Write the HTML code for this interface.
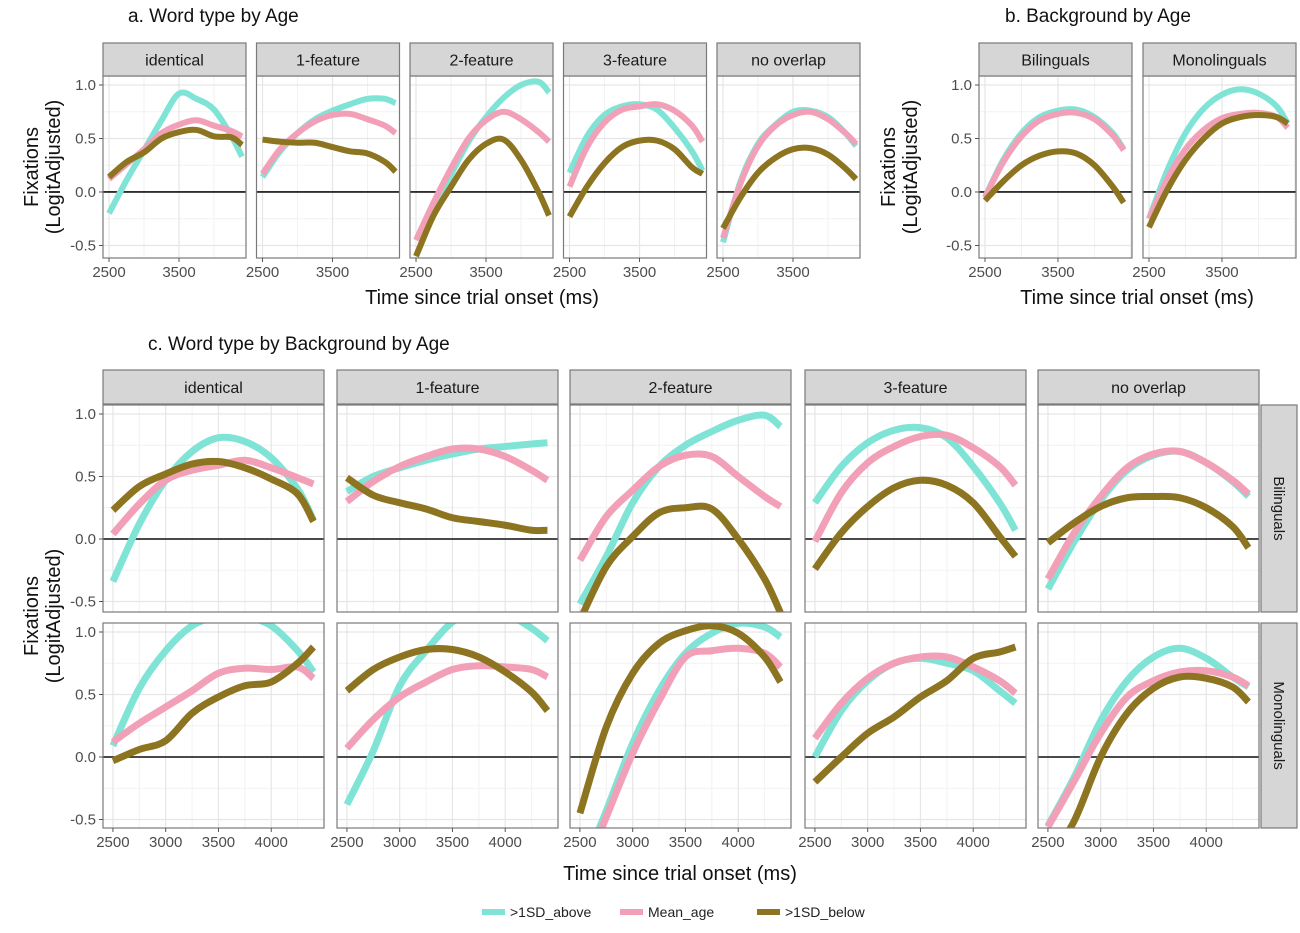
<!DOCTYPE html>
<html><head><meta charset="utf-8"><style>
body{margin:0;background:#fff;}
svg text{font-family:"Liberation Sans",Arial,sans-serif;}
</style></head><body>
<svg id="chart" width="1300" height="928" xmlns="http://www.w3.org/2000/svg">
<text x="128" y="22" font-size="19" fill="#111">a. Word type by Age</text>
<text x="1005" y="22" font-size="19" fill="#111">b. Background by Age</text>
<text x="148" y="350" font-size="19" fill="#111">c. Word type by Background by Age</text>
<text x="482" y="304" font-size="20" fill="#111" text-anchor="middle">Time since trial onset (ms)</text>
<text x="1137" y="304" font-size="20" fill="#111" text-anchor="middle">Time since trial onset (ms)</text>
<text x="680" y="880" font-size="20" fill="#111" text-anchor="middle">Time since trial onset (ms)</text>
<g font-size="20" fill="#111" text-anchor="middle">
<text transform="translate(38,167) rotate(-90)">Fixations</text><text transform="translate(60,167) rotate(-90)">(LogitAdjusted)</text></g>
<g font-size="20" fill="#111" text-anchor="middle">
<text transform="translate(895,167) rotate(-90)">Fixations</text><text transform="translate(917,167) rotate(-90)">(LogitAdjusted)</text></g>
<g font-size="20" fill="#111" text-anchor="middle">
<text transform="translate(38,616) rotate(-90)">Fixations</text><text transform="translate(60,616) rotate(-90)">(LogitAdjusted)</text></g>
<g font-size="14" fill="#222">
<line x1="482" y1="912" x2="505" y2="912" stroke="#7fe3d6" stroke-width="6"/>
<text x="510" y="917">&gt;1SD_above</text>
<line x1="620" y1="912" x2="643" y2="912" stroke="#f2a0b8" stroke-width="6"/>
<text x="648" y="917">Mean_age</text>
<line x1="757" y1="912" x2="780" y2="912" stroke="#8c7420" stroke-width="6"/>
<text x="785" y="917">&gt;1SD_below</text>
</g>
</svg>
<script>
// ---- data ----
const xs = [2500,2750,3000,3250,3500,3750,4000,4250,4400];
const seriesNames = [">1SD_above","Mean_age",">1SD_below"];
const wordTypes = ["identical","1-feature","2-feature","3-feature","no overlap"];
const backgrounds = ["Bilinguals","Monolinguals"];
// panel a
const a_identical = [[-0.20,0.11,0.39,0.67,0.92,0.87,0.77,0.52,0.33],[0.12,0.26,0.40,0.55,0.63,0.67,0.62,0.57,0.52],[0.14,0.28,0.37,0.50,0.56,0.58,0.52,0.51,0.44]];
const a_1feature = [[0.14,0.38,0.55,0.68,0.76,0.82,0.87,0.87,0.83],[0.17,0.40,0.55,0.66,0.72,0.73,0.68,0.62,0.55],[0.49,0.47,0.46,0.46,0.42,0.38,0.36,0.28,0.19]];
const a_2feature = [[-0.60,-0.20,0.16,0.47,0.70,0.88,1.00,1.03,0.93],[-0.45,-0.10,0.22,0.50,0.67,0.75,0.68,0.56,0.47],[-0.60,-0.22,0.05,0.30,0.45,0.49,0.30,0.00,-0.22]];
const a_3feature = [[0.18,0.52,0.72,0.80,0.82,0.77,0.60,0.38,0.20],[0.05,0.42,0.65,0.77,0.80,0.82,0.76,0.62,0.47],[-0.23,0.05,0.27,0.42,0.48,0.48,0.40,0.23,0.17]];
const a_nooverlap = [[-0.47,0.10,0.45,0.63,0.75,0.76,0.70,0.55,0.43],[-0.43,0.08,0.43,0.62,0.72,0.75,0.68,0.55,0.45],[-0.34,-0.05,0.18,0.32,0.40,0.41,0.35,0.22,0.12]];
// panel b
const b_bilinguals = [[-0.05,0.30,0.55,0.70,0.76,0.77,0.70,0.55,0.40],[-0.05,0.28,0.52,0.67,0.73,0.74,0.68,0.53,0.39],[-0.08,0.10,0.25,0.34,0.38,0.36,0.25,0.05,-0.10]];
const b_monolinguals = [[-0.25,0.20,0.55,0.78,0.91,0.96,0.92,0.80,0.64],[-0.25,0.12,0.40,0.58,0.69,0.73,0.74,0.70,0.60],[-0.33,0.02,0.30,0.50,0.64,0.70,0.72,0.70,0.64]];
// panel c, Bilinguals
const c_bil_identical = [[-0.34,0.12,0.47,0.70,0.81,0.78,0.65,0.40,0.15],[0.04,0.28,0.47,0.55,0.59,0.63,0.57,0.49,0.44],[0.23,0.42,0.52,0.60,0.62,0.57,0.48,0.36,0.14]];
const c_bil_1feature = [[0.38,0.50,0.57,0.63,0.68,0.72,0.74,0.76,0.77],[0.30,0.46,0.58,0.66,0.72,0.72,0.66,0.55,0.47],[0.49,0.35,0.29,0.24,0.17,0.14,0.11,0.07,0.07]];
const c_bil_2feature = [[-0.52,-0.14,0.29,0.58,0.75,0.86,0.95,0.99,0.90],[-0.17,0.18,0.39,0.58,0.67,0.66,0.50,0.34,0.26],[-0.65,-0.22,0.02,0.21,0.25,0.24,0.00,-0.32,-0.59]];
const c_bil_3feature = [[0.29,0.58,0.77,0.87,0.89,0.81,0.58,0.29,0.07],[-0.02,0.37,0.61,0.74,0.82,0.83,0.73,0.58,0.43],[-0.24,0.05,0.26,0.41,0.47,0.43,0.29,0.02,-0.14]];
const c_bil_nooverlap = [[-0.40,-0.02,0.31,0.55,0.67,0.70,0.61,0.46,0.34],[-0.32,0.05,0.34,0.57,0.68,0.70,0.61,0.47,0.36],[-0.03,0.13,0.26,0.33,0.34,0.33,0.25,0.10,-0.07]];
// panel c, Monolinguals
const c_mono_identical = [[0.09,0.55,0.85,1.05,1.12,1.12,1.05,0.85,0.68],[0.12,0.27,0.40,0.53,0.67,0.71,0.70,0.72,0.63],[-0.03,0.06,0.13,0.35,0.48,0.57,0.60,0.75,0.88]];
const c_mono_1feature = [[-0.38,0.05,0.57,0.85,1.08,1.18,1.15,1.03,0.93],[0.07,0.30,0.48,0.60,0.70,0.73,0.72,0.70,0.64],[0.53,0.70,0.80,0.86,0.86,0.80,0.68,0.52,0.37]];
const c_mono_2feature = [[-0.95,-0.43,0.11,0.53,0.83,0.99,1.07,1.04,0.96],[-1.0,-0.48,0.03,0.45,0.80,0.85,0.87,0.83,0.72],[-0.45,0.24,0.67,0.91,1.01,1.05,0.99,0.80,0.60]];
const c_mono_3feature = [[0.00,0.37,0.61,0.75,0.79,0.75,0.69,0.53,0.43],[0.15,0.43,0.63,0.75,0.80,0.80,0.72,0.61,0.51],[-0.20,0.00,0.19,0.32,0.48,0.61,0.79,0.84,0.88]];
const c_mono_nooverlap = [[-0.55,-0.16,0.29,0.61,0.80,0.87,0.79,0.64,0.56],[-0.56,-0.19,0.19,0.48,0.61,0.68,0.69,0.64,0.57],[-0.85,-0.51,0.00,0.35,0.55,0.64,0.63,0.56,0.44]];
const yTicks = [-0.5,0,0.5,1.0];
const yTickLabels = ["-0.5","0.0","0.5","1.0"];
const xTicksAB = [2500,3500];
const xTicksC = [2500,3000,3500,4000];

// ---- drawing ----
const NS="http://www.w3.org/2000/svg";
const svg=document.getElementById('chart');
const colors=["#7fe3d6","#f2a0b8","#8c7420"];
let clipId=0;
function mk(tag,attrs,parent){const e=document.createElementNS(NS,tag);for(const k in attrs)e.setAttribute(k,attrs[k]);(parent||svg).appendChild(e);return e;}
function smooth(pts){let d="M"+pts[0][0]+","+pts[0][1];for(let i=0;i<pts.length-1;i++){const p0=pts[Math.max(0,i-1)],p1=pts[i],p2=pts[i+1],p3=pts[Math.min(pts.length-1,i+2)];
const c1x=p1[0]+(p2[0]-p0[0])/6,c1y=p1[1]+(p2[1]-p0[1])/6,c2x=p2[0]-(p3[0]-p1[0])/6,c2y=p2[1]-(p3[1]-p1[1])/6;d+=" C"+c1x+","+c1y+" "+c2x+","+c2y+" "+p2[0]+","+p2[1];}return d;}
function facet(f){
  const g=mk('g',{});
  
  
  const sx=v=>f.x+(v-f.xmin)/(f.xmax-f.xmin)*f.w;
  const sy=v=>f.y+(f.ymax-v)/(f.ymax-f.ymin)*f.h;
  mk('rect',{x:f.x,y:f.y,width:f.w,height:f.h,fill:"#fff"},g);
  for(let i=0;i<yTicks.length-1;i++){const yy=sy((yTicks[i]+yTicks[i+1])/2);mk('line',{x1:f.x,x2:f.x+f.w,y1:yy,y2:yy,stroke:"#f2f2f2","stroke-width":1},g);}
  for(let v=f.xTicks[0]-f.xStep/2;v<=f.xmax;v+=f.xStep){if(v<f.xmin)continue;const xx=sx(v);mk('line',{x1:xx,x2:xx,y1:f.y,y2:f.y+f.h,stroke:"#f2f2f2","stroke-width":1},g);}
  yTicks.forEach(t=>{const yy=sy(t);mk('line',{x1:f.x,x2:f.x+f.w,y1:yy,y2:yy,stroke:"#e6e6e6","stroke-width":1.2},g);});
  for(let v=f.xTicks[0];v<=f.xmax;v+=f.xStep){const xx=sx(v);mk('line',{x1:xx,x2:xx,y1:f.y,y2:f.y+f.h,stroke:"#e6e6e6","stroke-width":1.2},g);}
  const zy=sy(0);mk('line',{x1:f.x,x2:f.x+f.w,y1:zy,y2:zy,stroke:"#111","stroke-width":1.6},g);
  const cid="clip"+(clipId++);
  const cp=mk('clipPath',{id:cid},g);mk('rect',{x:f.x,y:f.y,width:f.w,height:f.h},cp);
  f.series.forEach((vals,si)=>{
    const pts=xs.map((xv,i)=>[sx(xv),sy(vals[i])]);
    const p=mk('path',{d:smooth(pts),fill:"none",stroke:colors[si],"stroke-width":f.lw,"stroke-linecap":"butt","stroke-linejoin":"round","clip-path":"url(#"+cid+")"},g);
    
    
  });
  mk('rect',{x:f.x,y:f.y,width:f.w,height:f.h,fill:"none",stroke:"#7a7a7a","stroke-width":1.2},g);
  const st=mk('rect',{x:f.x,y:f.sy,width:f.w,height:f.sh,fill:"#d6d6d6",stroke:"#7a7a7a","stroke-width":1.2},g);
  
  
  const stt=mk('text',{x:f.x+f.w/2,y:f.sy+f.sh/2+6,"font-size":16,"text-anchor":"middle",fill:"#1a1a1a"},g);
  stt.textContent=f.label;
  
  
  if(f.showX){f.xTicks.forEach(t=>{const xx=sx(t);mk('line',{x1:xx,x2:xx,y1:f.y+f.h,y2:f.y+f.h+4,stroke:"#555"},g);
    const tl=mk('text',{x:xx,y:f.y+f.h+19,"font-size":15,"text-anchor":"middle",fill:"#4d4d4d"},g);tl.textContent=t;
    
    });}
  if(f.showY){yTicks.forEach((t,i)=>{const yy=sy(t);mk('line',{x1:f.x-4,x2:f.x,y1:yy,y2:yy,stroke:"#555"},g);
    const tl=mk('text',{x:f.x-7,y:yy+5,"font-size":15,"text-anchor":"end",fill:"#4d4d4d"},g);tl.textContent=yTickLabels[i];
    
    });}
}
const aData=[a_identical,a_1feature,a_2feature,a_3feature,a_nooverlap];
aData.forEach((s,i)=>facet({name:"panel-a-"+wordTypes[i].replace(' ','-'),label:wordTypes[i],series:s,x:103+i*153.5,y:76,w:143,h:182,sy:43,sh:33,
  xmin:2414,xmax:4457,ymin:-0.617,ymax:1.084,xTicks:xTicksAB,xStep:1000,showX:true,showY:i===0,lw:6}));
const bData=[b_bilinguals,b_monolinguals];
bData.forEach((s,i)=>facet({name:"panel-b-"+backgrounds[i].toLowerCase(),label:backgrounds[i],series:s,x:[979,1143][i],y:76,w:153,h:182,sy:43,sh:33,
  xmin:2418,xmax:4514,ymin:-0.617,ymax:1.084,xTicks:xTicksAB,xStep:1000,showX:true,showY:i===0,lw:6}));
const cRows=[[c_bil_identical,c_bil_1feature,c_bil_2feature,c_bil_3feature,c_bil_nooverlap],[c_mono_identical,c_mono_1feature,c_mono_2feature,c_mono_3feature,c_mono_nooverlap]];
const cLefts=[103,337,570,805,1038];
cRows.forEach((row,r)=>row.forEach((s,i)=>facet({name:"panel-c-"+backgrounds[r].toLowerCase()+"-"+wordTypes[i].replace(' ','-'),label:wordTypes[i],series:s,
  x:cLefts[i],y:r===0?405:623,w:221,h:r===0?207:205,sy:r===0?370:-100,sh:r===0?34:0,
  xmin:2406,xmax:4500,ymin:r===0?-0.584:-0.568,ymax:1.072,xTicks:xTicksC,xStep:500,showX:r===1,showY:i===0,lw:7})));
[[405,207],[623,205]].forEach((p,r)=>{
  const rr=mk('rect',{x:1261,y:p[0],width:36,height:p[1],fill:"#d6d6d6",stroke:"#7a7a7a","stroke-width":1.2});
  
  
  const t=mk('text',{transform:"translate(1274,"+(p[0]+p[1]/2)+") rotate(90)","font-size":15,"text-anchor":"middle",fill:"#1a1a1a"});
  t.textContent=backgrounds[r];
  
  
});
</script>
</body></html>
